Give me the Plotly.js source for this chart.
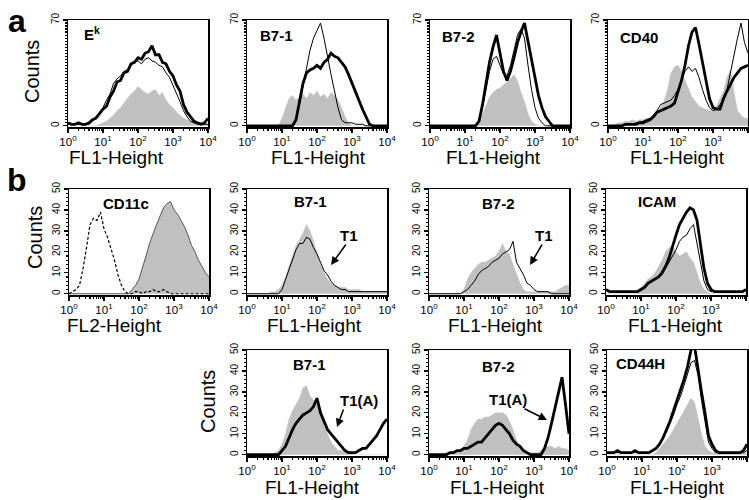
<!DOCTYPE html>
<html><head><meta charset="utf-8">
<script src="https://cdn.plot.ly/plotly-3.0.1.min.js"></script>
<style>html,body{margin:0;padding:0;background:#fff}#chart{width:749px;height:500px}</style>
</head><body><div id="chart"></div>
<script>
// Fluorescence channel bins (0.1-decade steps, 10^0 .. 10^4)
const bins = [1,1.259,1.585,1.995,2.512,3.162,3.981,5.012,6.31,7.943,
  10,12.59,15.85,19.95,25.12,31.62,39.81,50.12,63.1,79.43,
  100,125.9,158.5,199.5,251.2,316.2,398.1,501.2,631,794.3,
  1000,1259,1585,1995,2512,3162,3981,5012,6310,7943,10000];
const xTickVals = [1,10,100,1000,10000];
const xTickText = ['10<sup>0</sup>','10<sup>1</sup>','10<sup>2</sup>','10<sup>3</sup>','10<sup>4</sup>'];

// Panel a: Ek
const ekGray  = [0,0,0,0,0,0,0,0,0,1, 2,3,5,7,10,12,15,18,21,23, 26,24,22,21,23,24,20,22,17,14, 12,9,7,5,4,3,2,2,2,1, 1];
const ekThin  = [1,1,1,1,1,1,1,3,6,9, 12,17,21,28,31,33,36,37,40,42, 43,41,44,45,43,42,40,39,35,32, 27,21,16,10,6,3,2,1,1,1, 1];
const ekThick = [2,1,1,2,1,1,2,4,5,8, 11,13,19,23,29,30,35,36,41,42, 45,44,48,49,53,47,47,42,41,36, 33,27,23,14,9,6,3,2,1,2, 5];
// Panel a: B7-1
const b71aGray  = [0,0,0,0,0,0,0,0,0,0, 5,12,18,20,17,19,21,18,22,20, 23,19,21,18,22,20,17,12,6,2, 0,0,0,0,0,0,0,0,0,0, 0];
const b71aThin  = [0,0,0,0,0,0,0,0,0,0, 0,0,0,0,3,14,27,38,50,58, 63,68,58,45,34,23,12,4,2,2, 2,1,1,1,0,0,0,0,0,0, 0];
const b71aThick = [0,0,0,0,0,0,0,0,0,0, 0,0,0,0,4,16,28,35,37,38, 40,38,42,44,48,46,45,42,39,34, 28,22,16,11,6,1,0,0,0,0, 0];
// Panel a: B7-2
const b72aGray  = [0,0,0,0,0,0,0,0,0,0, 0,0,0,0,2,8,14,19,22,24, 25,27,29,31,34,30,22,16,8,3, 1,0,0,0,0,0,0,0,0,0, 0];
const b72aThin  = [0,0,0,0,0,0,0,0,0,0, 0,0,0,0,3,12,24,36,44,46, 40,34,33,40,50,60,64,58,40,24, 12,5,2,0,0,0,0,0,0,0, 0];
const b72aThick = [0,0,0,0,0,0,0,0,0,0, 0,0,0,0,3,14,28,42,52,60, 48,36,30,36,45,55,62,68,56,44, 33,20,12,6,3,0,0,0,0,0, 0];
// Panel a: CD40
const cd40Gray  = [0,0,1,2,2,3,3,4,3,4, 4,5,5,6,9,12,16,24,35,39, 40,36,30,24,19,16,13,12,11,10, 10,13,18,23,32,37,22,10,7,5, 5];
const cd40Thin  = [0,0,0,0,0,1,1,1,2,2, 3,4,5,7,10,14,15,16,17,20, 24,30,36,39,36,38,32,24,17,12, 10,11,14,17,24,36,48,58,68,55, 48];
const cd40Thick = [0,0,0,0,0,1,1,1,1,2, 2,3,4,6,9,10,11,12,13,15, 22,30,40,53,62,65,54,42,30,18, 12,11,11,18,23,28,32,35,38,39, 40];
// Panel b: CD11c
const cd11cDashed = [0,1,2,4,12,22,33,36,35,39, 31,27,22,16,9,4,1,0,0,1, 1,0,1,1,2,1,1,2,1,0, 0,0,0,0,0,0,0,0,0,0, 0];
const cd11cGray   = [0,0,0,0,0,0,0,0,0,0, 0,0,0,0,0,0,0,0,2,4, 7,12,18,24,29,33,37,41,43,44, 40,38,35,32,28,23,20,16,13,10, 8];
// Panel b: B7-1 (T1)
const b71bGray = [0,0,0,0,0,0,0,1,1,2, 4,8,13,19,23,26,29,33,30,25, 19,14,10,7,5,4,3,3,3,2, 2,2,2,1,1,1,1,1,1,1, 1];
const b71bThin = [0,0,0,0,0,0,0,0,0,0, 2,7,11,17,21,24,24,27,26,22, 19,15,11,9,6,4,3,2,2,1, 1,1,1,1,1,1,1,1,1,1, 1];
// Panel b: B7-2 (T1)
const b72bGray = [0,0,0,0,0,0,0,0,0,0, 2,7,10,12,14,15,15,16,17,18, 20,24,20,19,14,9,5,2,1,1, 1,1,1,1,1,1,1,2,3,4, 4];
const b72bThin = [0,0,0,0,0,0,0,0,0,0, 1,2,4,6,9,11,12,13,15,16, 17,19,20,21,25,15,12,9,5,4, 2,1,1,1,1,0,0,0,0,0, 0];
// Panel b: ICAM
const icamGray  = [0,0,0,0,0,0,0,0,0,2, 3,5,7,8,10,13,16,20,22,23, 20,18,19,20,17,15,10,5,2,1, 0,0,0,0,0,0,0,0,0,0, 0];
const icamThin  = [2,1,1,1,1,1,1,1,1,1, 2,3,5,6,7,8,9,12,15,18, 21,25,27,28,31,33,24,14,6,2, 1,1,1,1,1,1,1,1,1,1, 2];
const icamThick = [2,1,1,1,1,1,1,1,1,1, 2,3,5,6,7,8,10,13,17,23, 28,33,36,39,41,40,35,24,12,5, 2,1,1,1,1,1,1,1,1,1, 2];
// Panel c: B7-1 (T1(A))
const b71cGray  = [0,0,0,0,0,0,0,0,1,2, 5,10,17,21,24,27,32,33,28,26, 24,22,16,10,6,4,2,2,1,1, 1,0,0,0,0,0,0,0,0,0, 0];
const b71cThick = [0,0,0,0,0,0,0,0,0,0, 2,4,8,12,15,17,19,20,21,23, 27,20,16,12,10,8,6,4,2,1, 1,1,2,3,3,5,7,9,12,15, 17];
// Panel c: B7-2 (T1(A))
const b72cGray  = [0,0,0,0,0,1,1,1,2,2, 4,7,12,15,17,17,18,18,19,20, 20,20,19,16,12,7,4,2,1,1, 1,1,2,3,4,4,3,4,3,3, 2];
const b72cThick = [0,0,0,0,0,0,1,1,2,2, 3,3,4,5,6,6,8,10,12,14, 15,14,12,10,7,5,4,2,1,0, 0,0,0,3,8,15,22,30,37,24, 10];
// Panel c: CD44H
const cd44Gray  = [0,0,0,0,0,0,0,0,0,0, 0,0,0,0,1,3,5,7,9,12, 15,18,21,24,27,25,17,10,4,2, 1,1,1,1,1,1,1,1,1,1, 1];
const cd44Thin  = [1,1,1,1,1,1,1,1,1,1, 1,1,1,2,3,5,8,11,15,19, 24,28,33,38,44,45,38,26,15,6, 3,1,1,1,1,1,1,1,1,1, 2];
const cd44Thick = [1,1,1,2,1,1,1,1,2,1, 1,1,1,2,3,5,8,12,16,21, 26,30,36,42,50,52,40,30,20,9, 5,2,1,1,1,1,1,1,1,2, 5];

// ---- layout ----
const W = 749, H = 500;
const px = v => v / W, py = v => 1 - v / H;
const FONT = 'Liberation Sans, Arial, Helvetica, sans-serif';
const GRAY = '#c0c0c0';

const rowA = {top: 20, bot: 127, range: [-0.8, 70], ticks: [0, 70]};
const rowB = {top: 189, bot: 295, range: [-0.6, 50], ticks: [0,10,20,30,40,50]};
const rowC = {top: 350, bot: 456, range: [-0.6, 50], ticks: [0,10,20,30,40,50]};

const panels = [
  {x0: 68,  row: rowA, series: [['g', ekGray], ['t', ekThin], ['T', ekThick]]},
  {x0: 247, row: rowA, series: [['g', b71aGray], ['t', b71aThin], ['T', b71aThick]]},
  {x0: 430, row: rowA, series: [['g', b72aGray], ['t', b72aThin], ['T', b72aThick]]},
  {x0: 608, row: rowA, series: [['g', cd40Gray], ['t', cd40Thin], ['T', cd40Thick]]},
  {x0: 69,  row: rowB, series: [['go', cd11cGray], ['d', cd11cDashed]]},
  {x0: 247, row: rowB, series: [['g', b71bGray], ['t', b71bThin]]},
  {x0: 429, row: rowB, series: [['g', b72bGray], ['t', b72bThin]]},
  {x0: 606, row: rowB, series: [['g', icamGray], ['t', icamThin], ['T', icamThick]]},
  {x0: 247, row: rowC, series: [['g', b71cGray], ['T', b71cThick]]},
  {x0: 429, row: rowC, series: [['g', b72cGray], ['T', b72cThick]]},
  {x0: 607, row: rowC, series: [['g', cd44Gray], ['t', cd44Thin], ['T', cd44Thick]]},
];

const minorX = [];
for (let d = 0; d < 4; d++) for (let k = 2; k <= 9; k++) minorX.push(k * Math.pow(10, d));

const traces = [];
const layout = {
  width: W, height: H, margin: {l: 0, r: 0, t: 0, b: 0},
  paper_bgcolor: '#fff', plot_bgcolor: '#fff', showlegend: false,
  font: {family: FONT, color: '#000'}, annotations: []
};

panels.forEach((p, i) => {
  const n = i + 1, sx = n === 1 ? '' : n;
  const xa = 'x' + sx, ya = 'y' + sx;
  layout['xaxis' + sx] = {
    type: 'log', range: [0, 4], domain: [px(p.x0), px(p.x0 + 140)], anchor: ya,
    showline: true, mirror: true, linecolor: '#000', linewidth: 1.5,
    ticks: 'outside', ticklen: 4, tickwidth: 1.2, tickcolor: '#000',
    tickmode: 'array', tickvals: xTickVals, ticktext: xTickText,
    tickfont: {size: 11.5, family: FONT}, showgrid: false, zeroline: false,
    minor: {tickmode: 'array', tickvals: minorX, ticks: 'outside', ticklen: 2.5, tickcolor: '#000', showgrid: false}
  };
  layout['yaxis' + sx] = {
    range: p.row.range, domain: [py(p.row.bot), py(p.row.top)], anchor: xa,
    showline: true, mirror: true, linecolor: '#000', linewidth: 1.5,
    ticks: 'outside', ticklen: 4, tickwidth: 1.2, tickcolor: '#000',
    tickmode: 'array', tickvals: p.row.ticks, tickangle: -90,
    tickfont: {size: 10, family: FONT}, showgrid: false, zeroline: false,
    minor: {dtick: 2, tick0: 0, ticks: 'outside', ticklen: 2, tickcolor: '#000', showgrid: false}
  };
  p.series.forEach(([kind, ys]) => {
    const t = {x: bins, y: ys, xaxis: xa, yaxis: ya, type: 'scatter', mode: 'lines', hoverinfo: 'skip'};
    if (kind === 'g') { t.fill = 'tozeroy'; t.fillcolor = GRAY; t.line = {color: GRAY, width: 0.5}; }
    else if (kind === 'go') { t.fill = 'tozeroy'; t.fillcolor = GRAY; t.line = {color: '#555', width: 1}; }
    else if (kind === 't') { t.line = {color: '#000', width: 1}; }
    else if (kind === 'T') { t.line = {color: '#000', width: 2.8}; }
    else if (kind === 'd') { t.line = {color: '#000', width: 1.2, dash: '3px,2px'}; }
    traces.push(t);
  });
});

function txt(text, x, y, size, opts) {
  layout.annotations.push(Object.assign({
    text: text, xref: 'paper', yref: 'paper', x: px(x), y: py(y),
    xanchor: 'center', yanchor: 'middle', showarrow: false,
    font: {family: FONT, size: size, color: '#000'}
  }, opts || {}));
}
function arrow(tx, ty, hx, hy) {
  layout.annotations.push({
    text: '', xref: 'paper', yref: 'paper', x: px(hx), y: py(hy),
    axref: 'pixel', ayref: 'pixel', ax: tx - hx, ay: ty - hy,
    showarrow: true, arrowhead: 2, arrowsize: 1.1, arrowwidth: 1.5, arrowcolor: '#000', standoff: 0
  });
}

// panel letters
txt('<b>a</b>', 17, 21, 32);
txt('<b>b</b>', 17, 180, 32);
// Counts
txt('Counts', 32, 72, 20, {textangle: -90});
txt('Counts', 35, 238, 20, {textangle: -90});
txt('Counts', 208, 402, 20, {textangle: -90});
// x titles
[[116,157,'FL1-Height'],[318,157,'FL1-Height'],[493,157,'FL1-Height'],[677,157,'FL1-Height'],
 [114,325,'FL2-Height'],[314,325,'FL1-Height'],[496,325,'FL1-Height'],[675,325,'FL1-Height'],
 [312,487,'FL1-Height'],[497,487,'FL1-Height'],[677,487,'FL1-Height']]
  .forEach(([x, y, t]) => txt(t, x, y, 19));
// panel names
txt('<b>E<sup>k</sup></b>', 82, 33, 15, {xanchor: 'left'});
txt('<b>B7-1</b>', 276, 36, 15);
txt('<b>B7-2</b>', 458, 37, 15);
txt('<b>CD40</b>', 639, 38, 15);
txt('<b>CD11c</b>', 126, 204, 15);
txt('<b>B7-1</b>', 310, 201, 15);
txt('<b>B7-2</b>', 498, 203, 15);
txt('<b>ICAM</b>', 657, 201, 15);
txt('<b>B7-1</b>', 309, 364, 15);
txt('<b>B7-2</b>', 498, 366, 15);
txt('<b>CD44H</b>', 640, 363, 15);
// T1 labels + arrows
txt('<b>T1</b>', 349, 235, 15);
arrow(347, 243, 331, 265);
txt('<b>T1</b>', 544, 235, 15);
arrow(543, 243, 530, 265);
txt('<b>T1(A)</b>', 359, 400, 15);
arrow(344, 408, 337, 427);
txt('<b>T1(A)</b>', 508, 399, 15);
arrow(523, 408, 547, 420);

Plotly.newPlot('chart', traces, layout, {staticPlot: true, displayModeBar: false});
</script></body></html>
